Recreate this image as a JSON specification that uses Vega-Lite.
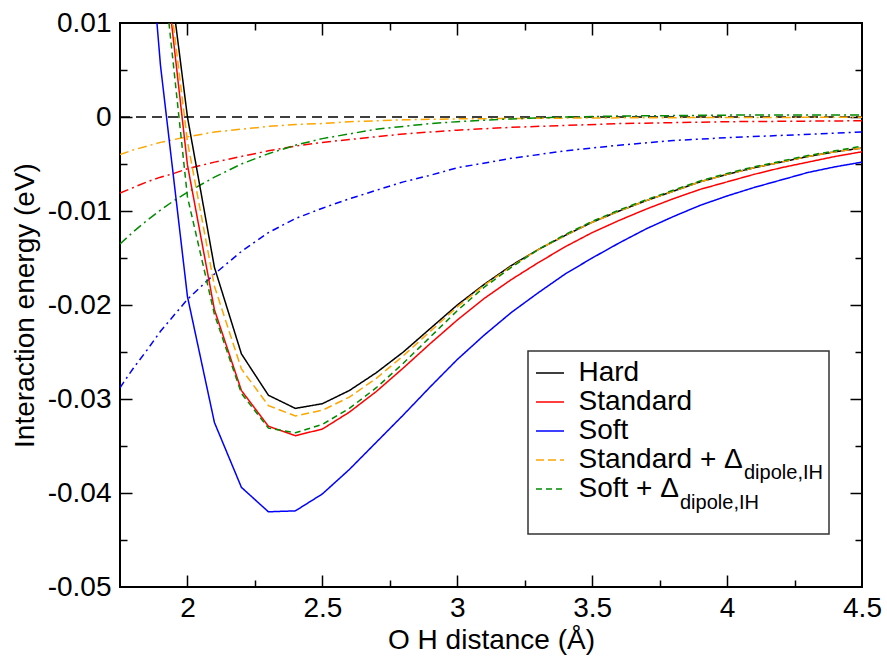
{
"$schema": "https://vega.github.io/schema/vega-lite/v6.json",
"width": 742, "height": 564,
"autosize": {"type": "none"},
"padding": {"left": 120, "top": 23, "right": 25, "bottom": 69},
"background": "white",
"config": {
  "font": "Liberation Sans",
  "view": {"stroke": "black", "strokeWidth": 2},
  "axis": {"grid": false, "domain": false, "tickColor": "black", "tickWidth": 1.5, "labelColor": "black", "titleColor": "black", "labelFontSize": 28, "titleFontSize": 28, "titleFontWeight": "normal", "labelFlush": false, "labelOverlap": false, "labelBound": false}
},
"data": {"name": "curves"},
"datasets": {"curves": [
{"series":"Hard","r":1.9,"E":0.0227},{"series":"Hard","r":2.0,"E":0.0},{"series":"Hard","r":2.1,"E":-0.0160},{"series":"Hard","r":2.2,"E":-0.0252},{"series":"Hard","r":2.3,"E":-0.0296},{"series":"Hard","r":2.4,"E":-0.0310},{"series":"Hard","r":2.5,"E":-0.0305},{"series":"Hard","r":2.6,"E":-0.0291},{"series":"Hard","r":2.7,"E":-0.0272},{"series":"Hard","r":2.8,"E":-0.0250},{"series":"Hard","r":2.9,"E":-0.0225},{"series":"Hard","r":3.0,"E":-0.0200},{"series":"Hard","r":3.1,"E":-0.0178},{"series":"Hard","r":3.2,"E":-0.0158},{"series":"Hard","r":3.3,"E":-0.0141},{"series":"Hard","r":3.4,"E":-0.0126},{"series":"Hard","r":3.5,"E":-0.0112},{"series":"Hard","r":3.6,"E":-0.0100},{"series":"Hard","r":3.7,"E":-0.0089},{"series":"Hard","r":3.8,"E":-0.0079},{"series":"Hard","r":3.9,"E":-0.0069},{"series":"Hard","r":4.0,"E":-0.0061},{"series":"Hard","r":4.1,"E":-0.0054},{"series":"Hard","r":4.2,"E":-0.0048},{"series":"Hard","r":4.3,"E":-0.0042},{"series":"Hard","r":4.4,"E":-0.0037},{"series":"Hard","r":4.5,"E":-0.0033},
{"series":"Standard","r":1.9,"E":0.0205},{"series":"Standard","r":2.0,"E":-0.0051},{"series":"Standard","r":2.1,"E":-0.0205},{"series":"Standard","r":2.2,"E":-0.0291},{"series":"Standard","r":2.3,"E":-0.0329},{"series":"Standard","r":2.4,"E":-0.0339},{"series":"Standard","r":2.5,"E":-0.0332},{"series":"Standard","r":2.6,"E":-0.0314},{"series":"Standard","r":2.7,"E":-0.0292},{"series":"Standard","r":2.8,"E":-0.0267},{"series":"Standard","r":2.9,"E":-0.0241},{"series":"Standard","r":3.0,"E":-0.0216},{"series":"Standard","r":3.1,"E":-0.0193},{"series":"Standard","r":3.2,"E":-0.0173},{"series":"Standard","r":3.3,"E":-0.0155},{"series":"Standard","r":3.4,"E":-0.0138},{"series":"Standard","r":3.5,"E":-0.0123},{"series":"Standard","r":3.6,"E":-0.0110},{"series":"Standard","r":3.7,"E":-0.0098},{"series":"Standard","r":3.8,"E":-0.0087},{"series":"Standard","r":3.9,"E":-0.0077},{"series":"Standard","r":4.0,"E":-0.0069},{"series":"Standard","r":4.1,"E":-0.0061},{"series":"Standard","r":4.2,"E":-0.0054},{"series":"Standard","r":4.3,"E":-0.0048},{"series":"Standard","r":4.4,"E":-0.0042},{"series":"Standard","r":4.5,"E":-0.0037},
{"series":"Soft","r":1.8,"E":0.0400},{"series":"Soft","r":1.9,"E":0.0055},{"series":"Soft","r":2.0,"E":-0.0191},{"series":"Soft","r":2.1,"E":-0.0325},{"series":"Soft","r":2.2,"E":-0.0394},{"series":"Soft","r":2.3,"E":-0.0420},{"series":"Soft","r":2.4,"E":-0.0419},{"series":"Soft","r":2.5,"E":-0.0401},{"series":"Soft","r":2.6,"E":-0.0375},{"series":"Soft","r":2.7,"E":-0.0346},{"series":"Soft","r":2.8,"E":-0.0317},{"series":"Soft","r":2.9,"E":-0.0287},{"series":"Soft","r":3.0,"E":-0.0258},{"series":"Soft","r":3.1,"E":-0.0232},{"series":"Soft","r":3.2,"E":-0.0208},{"series":"Soft","r":3.3,"E":-0.0187},{"series":"Soft","r":3.4,"E":-0.0167},{"series":"Soft","r":3.5,"E":-0.0150},{"series":"Soft","r":3.6,"E":-0.0134},{"series":"Soft","r":3.7,"E":-0.0119},{"series":"Soft","r":3.8,"E":-0.0106},{"series":"Soft","r":3.9,"E":-0.0094},{"series":"Soft","r":4.0,"E":-0.0084},{"series":"Soft","r":4.1,"E":-0.0075},{"series":"Soft","r":4.2,"E":-0.0067},{"series":"Soft","r":4.3,"E":-0.0059},{"series":"Soft","r":4.4,"E":-0.0053},{"series":"Soft","r":4.5,"E":-0.0048},
{"series":"Standard + Δ(dipole,IH)","r":1.9,"E":0.0212},{"series":"Standard + Δ(dipole,IH)","r":2.0,"E":-0.0026},{"series":"Standard + Δ(dipole,IH)","r":2.1,"E":-0.0180},{"series":"Standard + Δ(dipole,IH)","r":2.2,"E":-0.0268},{"series":"Standard + Δ(dipole,IH)","r":2.3,"E":-0.0307},{"series":"Standard + Δ(dipole,IH)","r":2.4,"E":-0.0318},{"series":"Standard + Δ(dipole,IH)","r":2.5,"E":-0.0312},{"series":"Standard + Δ(dipole,IH)","r":2.6,"E":-0.0298},{"series":"Standard + Δ(dipole,IH)","r":2.7,"E":-0.0278},{"series":"Standard + Δ(dipole,IH)","r":2.8,"E":-0.0254},{"series":"Standard + Δ(dipole,IH)","r":2.9,"E":-0.0228},{"series":"Standard + Δ(dipole,IH)","r":3.0,"E":-0.0202},{"series":"Standard + Δ(dipole,IH)","r":3.1,"E":-0.0179},{"series":"Standard + Δ(dipole,IH)","r":3.2,"E":-0.0159},{"series":"Standard + Δ(dipole,IH)","r":3.3,"E":-0.0141},{"series":"Standard + Δ(dipole,IH)","r":3.4,"E":-0.0126},{"series":"Standard + Δ(dipole,IH)","r":3.5,"E":-0.0112},{"series":"Standard + Δ(dipole,IH)","r":3.6,"E":-0.0100},{"series":"Standard + Δ(dipole,IH)","r":3.7,"E":-0.0089},{"series":"Standard + Δ(dipole,IH)","r":3.8,"E":-0.0079},{"series":"Standard + Δ(dipole,IH)","r":3.9,"E":-0.0069},{"series":"Standard + Δ(dipole,IH)","r":4.0,"E":-0.0061},{"series":"Standard + Δ(dipole,IH)","r":4.1,"E":-0.0054},{"series":"Standard + Δ(dipole,IH)","r":4.2,"E":-0.0048},{"series":"Standard + Δ(dipole,IH)","r":4.3,"E":-0.0042},{"series":"Standard + Δ(dipole,IH)","r":4.4,"E":-0.0037},{"series":"Standard + Δ(dipole,IH)","r":4.5,"E":-0.0033},
{"series":"Soft + Δ(dipole,IH)","r":1.9,"E":0.0185},{"series":"Soft + Δ(dipole,IH)","r":2.0,"E":-0.0085},{"series":"Soft + Δ(dipole,IH)","r":2.1,"E":-0.0210},{"series":"Soft + Δ(dipole,IH)","r":2.2,"E":-0.0294},{"series":"Soft + Δ(dipole,IH)","r":2.3,"E":-0.0331},{"series":"Soft + Δ(dipole,IH)","r":2.4,"E":-0.0336},{"series":"Soft + Δ(dipole,IH)","r":2.5,"E":-0.0327},{"series":"Soft + Δ(dipole,IH)","r":2.6,"E":-0.0310},{"series":"Soft + Δ(dipole,IH)","r":2.7,"E":-0.0288},{"series":"Soft + Δ(dipole,IH)","r":2.8,"E":-0.0262},{"series":"Soft + Δ(dipole,IH)","r":2.9,"E":-0.0234},{"series":"Soft + Δ(dipole,IH)","r":3.0,"E":-0.0206},{"series":"Soft + Δ(dipole,IH)","r":3.1,"E":-0.0181},{"series":"Soft + Δ(dipole,IH)","r":3.2,"E":-0.0160},{"series":"Soft + Δ(dipole,IH)","r":3.3,"E":-0.0141},{"series":"Soft + Δ(dipole,IH)","r":3.4,"E":-0.0125},{"series":"Soft + Δ(dipole,IH)","r":3.5,"E":-0.0111},{"series":"Soft + Δ(dipole,IH)","r":3.6,"E":-0.0099},{"series":"Soft + Δ(dipole,IH)","r":3.7,"E":-0.0088},{"series":"Soft + Δ(dipole,IH)","r":3.8,"E":-0.0078},{"series":"Soft + Δ(dipole,IH)","r":3.9,"E":-0.0068},{"series":"Soft + Δ(dipole,IH)","r":4.0,"E":-0.0060},{"series":"Soft + Δ(dipole,IH)","r":4.1,"E":-0.0053},{"series":"Soft + Δ(dipole,IH)","r":4.2,"E":-0.0047},{"series":"Soft + Δ(dipole,IH)","r":4.3,"E":-0.0041},{"series":"Soft + Δ(dipole,IH)","r":4.4,"E":-0.0036},{"series":"Soft + Δ(dipole,IH)","r":4.5,"E":-0.0031},
{"series":"Δ orange","r":1.75,"E":-0.0040},{"series":"Δ orange","r":1.8,"E":-0.0035},{"series":"Δ orange","r":1.85,"E":-0.0031},{"series":"Δ orange","r":1.9,"E":-0.0027},{"series":"Δ orange","r":1.95,"E":-0.0024},{"series":"Δ orange","r":2.0,"E":-0.0021},{"series":"Δ orange","r":2.1,"E":-0.0016},{"series":"Δ orange","r":2.2,"E":-0.0013},{"series":"Δ orange","r":2.3,"E":-0.0010},{"series":"Δ orange","r":2.4,"E":-0.0008},{"series":"Δ orange","r":2.5,"E":-0.0007},{"series":"Δ orange","r":2.6,"E":-0.0005},{"series":"Δ orange","r":2.7,"E":-0.0004},{"series":"Δ orange","r":2.8,"E":-0.0003},{"series":"Δ orange","r":3.0,"E":-0.0002},{"series":"Δ orange","r":3.25,"E":-0.00015},{"series":"Δ orange","r":3.5,"E":-0.0001},{"series":"Δ orange","r":4.0,"E":-0.00005},{"series":"Δ orange","r":4.5,"E":-0.00003},
{"series":"Δ red","r":1.75,"E":-0.0081},{"series":"Δ red","r":1.8,"E":-0.0075},{"series":"Δ red","r":1.85,"E":-0.0069},{"series":"Δ red","r":1.9,"E":-0.0064},{"series":"Δ red","r":1.95,"E":-0.0060},{"series":"Δ red","r":2.0,"E":-0.0055},{"series":"Δ red","r":2.1,"E":-0.0048},{"series":"Δ red","r":2.2,"E":-0.0042},{"series":"Δ red","r":2.3,"E":-0.0036},{"series":"Δ red","r":2.4,"E":-0.0031},{"series":"Δ red","r":2.5,"E":-0.0027},{"series":"Δ red","r":2.6,"E":-0.0024},{"series":"Δ red","r":2.7,"E":-0.0021},{"series":"Δ red","r":2.8,"E":-0.0018},{"series":"Δ red","r":2.9,"E":-0.0016},{"series":"Δ red","r":3.0,"E":-0.0014},{"series":"Δ red","r":3.2,"E":-0.0011},{"series":"Δ red","r":3.4,"E":-0.0009},{"series":"Δ red","r":3.6,"E":-0.0007},{"series":"Δ red","r":3.8,"E":-0.0006},{"series":"Δ red","r":4.0,"E":-0.0005},{"series":"Δ red","r":4.25,"E":-0.00045},{"series":"Δ red","r":4.5,"E":-0.0004},
{"series":"Δ green","r":1.75,"E":-0.0135},{"series":"Δ green","r":1.8,"E":-0.0122},{"series":"Δ green","r":1.85,"E":-0.0110},{"series":"Δ green","r":1.9,"E":-0.0099},{"series":"Δ green","r":1.95,"E":-0.0089},{"series":"Δ green","r":2.0,"E":-0.0080},{"series":"Δ green","r":2.1,"E":-0.0064},{"series":"Δ green","r":2.2,"E":-0.0050},{"series":"Δ green","r":2.3,"E":-0.0039},{"series":"Δ green","r":2.4,"E":-0.0030},{"series":"Δ green","r":2.5,"E":-0.0023},{"series":"Δ green","r":2.6,"E":-0.0018},{"series":"Δ green","r":2.7,"E":-0.0013},{"series":"Δ green","r":2.8,"E":-0.0010},{"series":"Δ green","r":2.9,"E":-0.0007},{"series":"Δ green","r":3.0,"E":-0.0005},{"series":"Δ green","r":3.2,"E":-0.0002},{"series":"Δ green","r":3.4,"E":0.0},{"series":"Δ green","r":3.6,"E":0.0001},{"series":"Δ green","r":3.8,"E":0.00015},{"series":"Δ green","r":4.0,"E":0.0002},{"series":"Δ green","r":4.25,"E":0.0002},{"series":"Δ green","r":4.5,"E":0.0002},
{"series":"Δ blue","r":1.75,"E":-0.0288},{"series":"Δ blue","r":1.8,"E":-0.0267},{"series":"Δ blue","r":1.85,"E":-0.0248},{"series":"Δ blue","r":1.9,"E":-0.0228},{"series":"Δ blue","r":1.95,"E":-0.0211},{"series":"Δ blue","r":2.0,"E":-0.0194},{"series":"Δ blue","r":2.1,"E":-0.0167},{"series":"Δ blue","r":2.2,"E":-0.0143},{"series":"Δ blue","r":2.3,"E":-0.0123},{"series":"Δ blue","r":2.4,"E":-0.0108},{"series":"Δ blue","r":2.5,"E":-0.0097},{"series":"Δ blue","r":2.6,"E":-0.0087},{"series":"Δ blue","r":2.7,"E":-0.0078},{"series":"Δ blue","r":2.8,"E":-0.0069},{"series":"Δ blue","r":2.9,"E":-0.0062},{"series":"Δ blue","r":3.0,"E":-0.0054},{"series":"Δ blue","r":3.2,"E":-0.0044},{"series":"Δ blue","r":3.4,"E":-0.0036},{"series":"Δ blue","r":3.6,"E":-0.0030},{"series":"Δ blue","r":3.8,"E":-0.0025},{"series":"Δ blue","r":4.0,"E":-0.0022},{"series":"Δ blue","r":4.25,"E":-0.0019},{"series":"Δ blue","r":4.5,"E":-0.0016}
]},
"resolve": {"axis": {"x": "independent", "y": "independent"}, "scale": {"shape": "independent"}, "legend": {"shape": "independent"}},
"layer": [
{
  "data": {"values": [{}]},
  "mark": {"type": "rule", "color": "black", "strokeWidth": 1.5, "strokeDash": [10, 6]},
  "encoding": {
    "x": {"datum": 1.75, "type": "quantitative", "scale": {"domain": [1.75, 4.5], "nice": false, "zero": false}, "axis": {"orient": "top", "values": [2, 2.5, 3, 3.5, 4], "labels": false, "title": null, "tickSize": 12, "offset": -12}},
    "x2": {"datum": 4.5},
    "y": {"datum": 0, "type": "quantitative", "scale": {"domain": [-0.05, 0.01], "nice": false, "zero": false}, "axis": {"orient": "right", "values": [-0.04, -0.03, -0.02, -0.01, 0], "labels": false, "title": null, "tickSize": 12, "offset": -12}}
  }
},
{
  "transform": [{"filter": {"field": "series", "oneOf": ["Δ orange", "Δ red", "Δ green", "Δ blue"]}}],
  "mark": {"type": "line", "clip": true, "strokeWidth": 1.5},
  "encoding": {
    "x": {"field": "r", "type": "quantitative", "scale": {"domain": [1.75, 4.5], "nice": false, "zero": false}, "axis": {"orient": "top", "values": [2.25, 2.75, 3.25, 3.75, 4.25], "labels": false, "title": null, "tickSize": 7, "offset": -7}},
    "y": {"field": "E", "type": "quantitative", "scale": {"domain": [-0.05, 0.01], "nice": false, "zero": false}, "axis": {"orient": "right", "values": [-0.045, -0.035, -0.025, -0.015, -0.005, 0.005], "labels": false, "title": null, "tickSize": 7, "offset": -7}},
    "color": {"field": "series", "type": "nominal", "scale": {"domain": ["Hard", "Standard", "Soft", "Standard + Δ(dipole,IH)", "Soft + Δ(dipole,IH)", "Δ orange", "Δ red", "Δ green", "Δ blue"], "range": ["#000000", "#ff0000", "#0000ff", "#ffa500", "#008b00", "#ffa500", "#ff0000", "#008b00", "#0000ff"]}},
    "strokeDash": {"field": "series", "type": "nominal", "scale": {"domain": ["Hard", "Standard", "Soft", "Standard + Δ(dipole,IH)", "Soft + Δ(dipole,IH)", "Δ orange", "Δ red", "Δ green", "Δ blue"], "range": [[1, 0], [1, 0], [1, 0], [8, 4], [6, 4], [9, 4, 2, 4], [9, 4, 2, 4], [9, 4, 2, 4], [7, 4, 2, 4]]}}
  }
},
{
  "transform": [{"filter": {"field": "series", "oneOf": ["Hard", "Standard", "Soft"]}}],
  "mark": {"type": "line", "clip": true, "strokeWidth": 1.5},
  "encoding": {
    "x": {"field": "r", "type": "quantitative", "scale": {"domain": [1.75, 4.5], "nice": false, "zero": false}, "axis": {"orient": "bottom", "values": [2, 2.5, 3, 3.5, 4, 4.5], "ticks": false, "labelPadding": 7, "format": "~g", "title": "O H distance (Å)", "titlePadding": 4}},
    "y": {"field": "E", "type": "quantitative", "scale": {"domain": [-0.05, 0.01], "nice": false, "zero": false}, "axis": {"orient": "left", "values": [-0.05, -0.04, -0.03, -0.02, -0.01, 0, 0.01], "ticks": false, "labelPadding": 9, "labelExpr": "replace(format(datum.value, '.2~f'), '\u2212', '-')", "title": "Interaction energy (eV)", "titlePadding": 8}},
    "color": {"field": "series", "type": "nominal", "legend": {"values": ["Hard", "Standard", "Soft", "Standard + Δ(dipole,IH)", "Soft + Δ(dipole,IH)"], "orient": "none", "legendX": 407, "legendY": 327, "title": null, "symbolType": "stroke", "symbolSize": 784, "symbolStrokeWidth": 1.5, "labelFontSize": 28, "labelOffset": 13.5, "labelLimit": 500, "labelColor": "black", "rowPadding": 0, "padding": 8, "labelExpr": "datum.label == 'Standard + Δ(dipole,IH)' ? 'Standard + Δ' : (datum.label == 'Soft + Δ(dipole,IH)' ? 'Soft + Δ' : datum.label)"}},
    "strokeDash": {"field": "series", "type": "nominal", "legend": {"values": ["Hard", "Standard", "Soft", "Standard + Δ(dipole,IH)", "Soft + Δ(dipole,IH)"], "orient": "none", "legendX": 407, "legendY": 327, "title": null, "symbolType": "stroke", "symbolSize": 784, "symbolStrokeWidth": 1.5, "labelFontSize": 28, "labelOffset": 13.5, "labelLimit": 500, "labelColor": "black", "rowPadding": 0, "padding": 8, "labelExpr": "datum.label == 'Standard + Δ(dipole,IH)' ? 'Standard + Δ' : (datum.label == 'Soft + Δ(dipole,IH)' ? 'Soft + Δ' : datum.label)"}}
  }
},
{
  "transform": [{"filter": {"field": "series", "oneOf": ["Standard + Δ(dipole,IH)", "Soft + Δ(dipole,IH)"]}}],
  "mark": {"type": "line", "clip": true, "strokeWidth": 1.5},
  "encoding": {
    "x": {"field": "r", "type": "quantitative", "scale": {"domain": [1.75, 4.5], "nice": false, "zero": false}, "axis": {"orient": "bottom", "values": [2, 2.5, 3, 3.5, 4], "labels": false, "title": null, "tickSize": 12, "offset": -12}},
    "y": {"field": "E", "type": "quantitative", "scale": {"domain": [-0.05, 0.01], "nice": false, "zero": false}, "axis": {"orient": "left", "values": [-0.04, -0.03, -0.02, -0.01, 0], "labels": false, "title": null, "tickSize": 12, "offset": -12}},
    "color": {"field": "series", "type": "nominal"},
    "strokeDash": {"field": "series", "type": "nominal"}
  }
},
{
  "transform": [{"filter": {"field": "series", "equal": "Standard + Δ(dipole,IH)"}}],
  "mark": {"type": "point", "opacity": 0, "clip": true},
  "encoding": {
    "x": {"field": "r", "type": "quantitative", "scale": {"domain": [1.75, 4.5], "nice": false, "zero": false}, "axis": {"orient": "bottom", "values": [2.25, 2.75, 3.25, 3.75, 4.25], "labels": false, "title": null, "tickSize": 7, "offset": -7}},
    "y": {"field": "E", "type": "quantitative", "scale": {"domain": [-0.05, 0.01], "nice": false, "zero": false}, "axis": {"orient": "left", "values": [-0.045, -0.035, -0.025, -0.015, -0.005, 0.005], "labels": false, "title": null, "tickSize": 7, "offset": -7}},
    "shape": {"field": "series", "type": "nominal", "scale": {"domain": ["Standard + Δ(dipole,IH)"]}, "legend": {"orient": "none", "legendX": 604, "legendY": 440, "title": null, "symbolSize": 0, "symbolOpacity": 0, "symbolStrokeWidth": 0, "labelOffset": 0, "padding": 0, "labelFontSize": 20, "labelColor": "black", "labelLimit": 300, "labelExpr": "'dipole,IH'"}}
  }
},
{
  "transform": [{"filter": {"field": "series", "equal": "Soft + Δ(dipole,IH)"}}],
  "mark": {"type": "point", "opacity": 0, "clip": true},
  "encoding": {
    "x": {"field": "r", "type": "quantitative", "scale": {"domain": [1.75, 4.5], "nice": false, "zero": false}, "axis": null},
    "y": {"field": "E", "type": "quantitative", "scale": {"domain": [-0.05, 0.01], "nice": false, "zero": false}, "axis": null},
    "shape": {"field": "series", "type": "nominal", "scale": {"domain": ["Soft + Δ(dipole,IH)"]}, "legend": {"orient": "none", "legendX": 540, "legendY": 470, "title": null, "symbolSize": 0, "symbolOpacity": 0, "symbolStrokeWidth": 0, "labelOffset": 0, "padding": 0, "labelFontSize": 20, "labelColor": "black", "labelLimit": 300, "labelExpr": "'dipole,IH'"}}
  }
},
{
  "transform": [{"filter": "datum.series == 'Soft' && datum.r == 1.8"}],
  "mark": {"type": "point", "clip": true, "filled": false, "color": "#333333"},
  "encoding": {
    "x": {"field": "r", "type": "quantitative", "scale": {"domain": [1.75, 4.5], "nice": false, "zero": false}, "axis": null},
    "y": {"field": "E", "type": "quantitative", "scale": {"domain": [-0.05, 0.01], "nice": false, "zero": false}, "axis": null},
    "shape": {"field": "series", "type": "nominal", "scale": {"domain": ["Soft"], "range": ["M-1,-0.608H1V0.608H-1Z"]}, "legend": {"orient": "none", "legendX": 407, "legendY": 268, "title": null, "symbolSize": 90601, "symbolOpacity": 1, "symbolStrokeColor": "#333333", "symbolFillColor": "transparent", "symbolStrokeWidth": 1.5, "labelOffset": 0, "padding": 0, "labelFontSize": 1, "labelExpr": "''"}}
  }
}
]
}
